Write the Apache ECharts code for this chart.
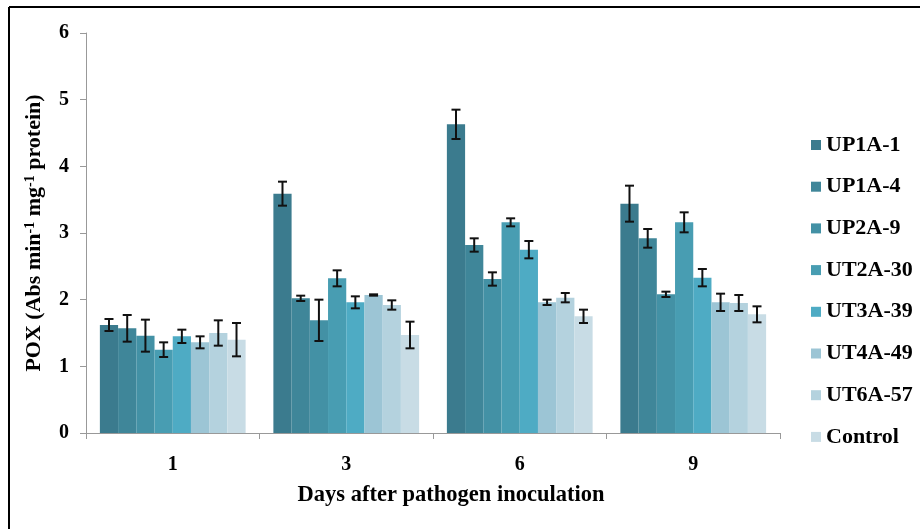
<!DOCTYPE html>
<html>
<head>
<meta charset="utf-8">
<script src="https://cdn.jsdelivr.net/npm/echarts@6/dist/echarts.min.js"></script>
<style>
html,body{margin:0;padding:0;background:#fff;}
#chart{width:920px;height:529px;}
</style>
</head>
<body>
<div id="chart"></div>
<script>
var days = ['1', '3', '6', '9'];
var strains = ['UP1A-1', 'UP1A-4', 'UP2A-9', 'UT2A-30', 'UT3A-39', 'UT4A-49', 'UT6A-57', 'Control'];
var colors = ['#3b7b8e', '#3f8699', '#4391a5', '#489db2', '#4eabc4', '#9cc5d5', '#b4d2de', '#c8dce5'];

// mean POX per strain, one value per day
var up1a1 = [1.62, 3.59, 4.63, 3.44];
var up1a4 = [1.57, 2.02, 2.82, 2.92];
var up2a9 = [1.46, 1.69, 2.31, 2.08];
var ut2a30 = [1.25, 2.32, 3.16, 3.16];
var ut3a39 = [1.45, 1.96, 2.75, 2.33];
var ut4a49 = [1.36, 2.07, 1.96, 1.96];
var ut6a57 = [1.50, 1.92, 2.03, 1.95];
var control = [1.40, 1.47, 1.75, 1.78];

// error (+/-)
var errUp1a1 = [0.09, 0.18, 0.22, 0.27];
var errUp1a4 = [0.20, 0.04, 0.10, 0.14];
var errUp2a9 = [0.24, 0.31, 0.10, 0.04];
var errUt2a30 = [0.11, 0.12, 0.06, 0.15];
var errUt3a39 = [0.10, 0.09, 0.13, 0.13];
var errUt4a49 = [0.09, 0.01, 0.04, 0.13];
var errUt6a57 = [0.19, 0.07, 0.07, 0.12];
var errControl = [0.25, 0.20, 0.10, 0.12];

var means = [up1a1, up1a4, up2a9, ut2a30, ut3a39, ut4a49, ut6a57, control];
var errs = [errUp1a1, errUp1a4, errUp2a9, errUt2a30, errUt3a39, errUt4a49, errUt6a57, errControl];

var gapRatio = 0.16;
var font = 'Liberation Serif';

var series = [];
var errData = [];
for (var i = 0; i < strains.length; i++) {
    series.push({
        name: strains[i],
        type: 'bar',
        data: means[i],
        barGap: '0%',
        barCategoryGap: (gapRatio * 100) + '%',
        itemStyle: {color: colors[i]}
    });
    for (var d = 0; d < days.length; d++) {
        errData.push([d, means[i][d] - errs[i][d], means[i][d] + errs[i][d], i]);
    }
}

series.push({
    name: 'err',
    type: 'custom',
    z: 10,
    renderItem: function (params, api) {
        var cat = api.value(0);
        var lo = api.coord([cat, api.value(1)]);
        var hi = api.coord([cat, api.value(2)]);
        var catW = api.size([1, 0])[0];
        var barW = catW * (1 - gapRatio) / strains.length;
        var x = lo[0] - catW * (1 - gapRatio) / 2 + barW * (api.value(3) + 0.5);
        var cap = 4.5;
        var st = {stroke: '#111', lineWidth: 2};
        return {
            type: 'group',
            children: [
                {type: 'line', shape: {x1: x, y1: lo[1], x2: x, y2: hi[1]}, style: st},
                {type: 'line', shape: {x1: x - cap, y1: lo[1], x2: x + cap, y2: lo[1]}, style: st},
                {type: 'line', shape: {x1: x - cap, y1: hi[1], x2: x + cap, y2: hi[1]}, style: st}
            ]
        };
    },
    encode: {x: 0, y: [1, 2]},
    data: errData,
    silent: true
});

var chart = echarts.init(document.getElementById('chart'));
chart.setOption({
    backgroundColor: '#fff',
    animation: false,
    textStyle: {fontFamily: font},
    grid: {left: 86, right: 140, top: 33, bottom: 96},
    legend: {
        data: strains,
        orient: 'vertical',
        left: 806,
        top: 129,
        itemWidth: 10,
        itemHeight: 10,
        itemGap: 19.7,
        icon: 'rect',
        textStyle: {fontFamily: font, fontWeight: 'bold', fontSize: 22, color: '#000', lineHeight: 22}
    },
    xAxis: {
        type: 'category',
        data: days,
        axisLine: {lineStyle: {color: '#999', width: 1}},
        axisTick: {show: true, length: 6, lineStyle: {color: '#999'}},
        axisLabel: {fontFamily: font, fontWeight: 'bold', fontSize: 20, color: '#000', margin: 22},
        name: 'Days after pathogen inoculation',
        nameLocation: 'middle',
        nameGap: 51,
        nameTextStyle: {fontFamily: font, fontWeight: 'bold', fontSize: 22.5, color: '#000', padding: [0, 0, 0, 36]}
    },
    yAxis: {
        type: 'value',
        min: 0,
        max: 6,
        interval: 1,
        splitLine: {show: false},
        axisLine: {show: true, lineStyle: {color: '#999', width: 1}},
        axisTick: {show: true, length: 6, lineStyle: {color: '#999'}},
        axisLabel: {fontFamily: font, fontWeight: 'bold', fontSize: 20, color: '#000', margin: 17},
        name: 'POX (Abs min{sup|-1} mg{sup|-1} protein)',
        nameLocation: 'middle',
        nameGap: 40,
        nameRotate: 90,
        nameTextStyle: {
            fontFamily: font, fontWeight: 'bold', fontSize: 22, color: '#000',
            rich: {sup: {fontFamily: font, fontWeight: 'bold', fontSize: 14, color: '#000', verticalAlign: 'top', padding: [0, 0, 9, 0]}}
        }
    },
    graphic: [
        {type: 'line', shape: {x1: 9, y1: 7, x2: 920, y2: 7}, style: {stroke: '#000', lineWidth: 2}},
        {type: 'line', shape: {x1: 9, y1: 7, x2: 9, y2: 529}, style: {stroke: '#000', lineWidth: 2}}
    ],
    series: series
});
</script>
</body>
</html>
